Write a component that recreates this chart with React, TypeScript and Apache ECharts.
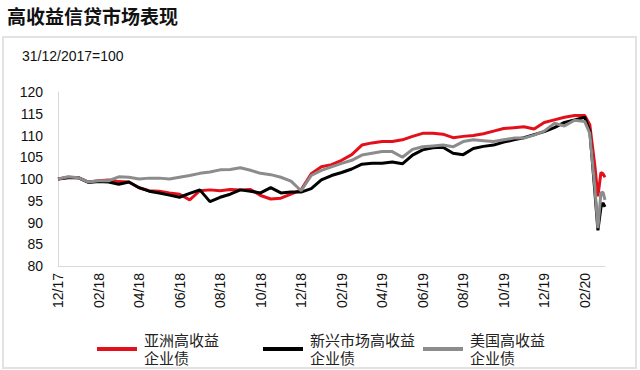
import React, { useEffect, useRef } from "react";
import * as echarts from "echarts";

// x positions in months since 31/12/2017
const months = [
  0, 0.5, 1, 1.5, 2, 2.5, 3, 3.5, 4, 4.5, 5, 5.5, 6, 6.5, 7, 7.5, 8, 8.5, 9, 9.5,
  10, 10.5, 11, 11.5, 12, 12.5, 13, 13.5, 14, 14.5, 15, 15.5, 16, 16.5, 17, 17.5,
  18, 18.5, 19, 19.5, 20, 20.5, 21, 21.5, 22, 22.5, 23, 23.5, 24, 24.5, 25, 25.5,
  26, 26.25, 26.5, 26.65, 26.8, 26.9, 27.0,
];

const asiaHY = [
  100.0, 100.4, 100.3, 99.3, 99.6, 99.8, 99.4, 99.3, 98.0, 97.3, 97.2, 96.8, 96.5, 95.2, 97.3, 97.5, 97.3, 97.6, 97.5, 97.6,
  96.2, 95.4, 95.6, 96.5, 97.5, 101.2, 102.8, 103.3, 104.3, 105.6, 107.8, 108.3, 108.6, 108.6, 109.0, 109.8,
  110.5, 110.5, 110.3, 109.5, 109.8, 110.0, 110.4, 111.0, 111.6, 111.8, 112.0, 111.5, 113.0, 113.6, 114.2, 114.6,
  114.6, 112.5, 103.0, 96.0, 101.5, 101.2, 100.4,
];

const emHY = [
  100.0, 100.3, 100.3, 99.2, 99.4, 99.3, 98.8, 99.3, 98.0, 97.2, 96.8, 96.3, 95.8, 96.7, 97.5, 94.8, 95.8, 96.5, 97.5, 97.2,
  96.8, 98.0, 96.8, 97.0, 97.0, 97.8, 99.8, 100.8, 101.5, 102.3, 103.4, 103.6, 103.6, 103.9, 103.5, 105.5,
  106.7, 107.2, 107.3, 105.9, 105.6, 107.0, 107.5, 107.8, 108.5, 109.0, 109.5, 110.2, 110.9, 111.8, 113.0, 113.6,
  114.2, 111.0, 97.0, 88.2, 93.5, 94.5, 93.6,
];

const usHY = [
  100.0, 100.5, 100.3, 99.3, 99.6, 99.6, 100.5, 100.4, 100.0, 100.2, 100.2, 100.0, 100.4, 100.8, 101.3, 101.6, 102.1, 102.2, 102.6, 102.0,
  101.3, 101.0, 100.4, 99.5, 97.3, 100.8, 102.0, 102.8, 103.6, 104.3, 105.5, 105.9, 106.3, 106.3, 105.0, 106.8,
  107.4, 107.6, 107.8, 107.4, 108.6, 109.0, 108.8, 108.6, 109.0, 109.4, 109.4, 110.1, 111.0, 112.8, 112.2, 113.5,
  113.2, 110.5, 98.0, 88.7, 96.8, 97.0, 95.2,
];

const xTickLabels = [
  "12/17", "02/18", "04/18", "06/18", "08/18", "10/18", "12/18",
  "02/19", "04/19", "06/19", "08/19", "10/19", "12/19", "02/20",
];

const seriesNames = ["亚洲高收益\n企业债", "新兴市场高收益\n企业债", "美国高收益\n企业债"];
const seriesColors = ["#e3101b", "#000000", "#8c8c8c"];

const FONT = "'Liberation Sans', Arial, 'Noto Sans CJK SC', sans-serif";

export default function App() {
  const ref = useRef<HTMLDivElement>(null);

  useEffect(() => {
    if (!ref.current) return;
    const chart = echarts.init(ref.current, undefined, { renderer: "svg" });
    const allValues = [asiaHY, emHY, usHY];
    const legendLefts = [92, 258, 418];

    chart.setOption({
      animation: false,
      backgroundColor: "#ffffff",
      textStyle: { fontFamily: FONT },
      title: [
        {
          text: "高收益信贷市场表现",
          left: 2,
          top: 3,
          textStyle: { fontSize: 19, fontWeight: "bold", color: "#111", fontFamily: FONT },
        },
        {
          text: "31/12/2017=100",
          left: 17,
          top: 44,
          textStyle: { fontSize: 14, fontWeight: "normal", color: "#111", fontFamily: FONT },
        },
      ],
      graphic: [
        {
          type: "rect",
          shape: { x: 3, y: 37, width: 633, height: 331 },
          style: { fill: "none", stroke: "#e2e2e2", lineWidth: 2 },
          silent: true,
        },
      ],
      legend: seriesNames.map((name, i) => ({
        data: [name],
        left: legendLefts[i],
        top: 326,
        orient: "horizontal",
        icon: "rect",
        itemWidth: 40,
        itemHeight: 4,
        itemGap: 0,
        selectedMode: false,
        textStyle: { fontSize: 15, lineHeight: 18, color: "#222", fontFamily: FONT, padding: [0, 0, 0, 2] },
      })),
      grid: { left: 58, right: 35, top: 92, bottom: 104 },
      xAxis: {
        type: "value",
        min: 0,
        max: 27,
        interval: 2,
        axisLine: { show: true, lineStyle: { color: "#d9d9d9", width: 1 } },
        axisTick: { show: false },
        splitLine: { show: false },
        axisLabel: {
          rotate: 90,
          margin: 7,
          fontSize: 14,
          color: "#111",
          fontFamily: FONT,
          showMaxLabel: false,
          formatter: (v: number) => {
            const idx = v / 2;
            return Number.isInteger(idx) && xTickLabels[idx] ? xTickLabels[idx] : "";
          },
        },
      },
      yAxis: {
        type: "value",
        min: 80,
        max: 120,
        interval: 5,
        axisLine: { show: true, lineStyle: { color: "#d9d9d9", width: 1 } },
        axisTick: { show: false },
        splitLine: { show: false },
        axisLabel: { fontSize: 14, color: "#111", margin: 15, fontFamily: FONT },
      },
      series: seriesNames.map((name, i) => ({
        name,
        type: "line",
        showSymbol: false,
        symbol: "none",
        z: 2 + i,
        color: seriesColors[i],
        lineStyle: { width: 3, color: seriesColors[i] },
        data: months.map((m, j) => [m, allValues[i][j]]),
      })),
    });

    return () => chart.dispose();
  }, []);

  return (
    <div
      ref={ref}
      style={{ position: "absolute", left: 0, top: 0, width: 640, height: 370 }}
    />
  );
}
